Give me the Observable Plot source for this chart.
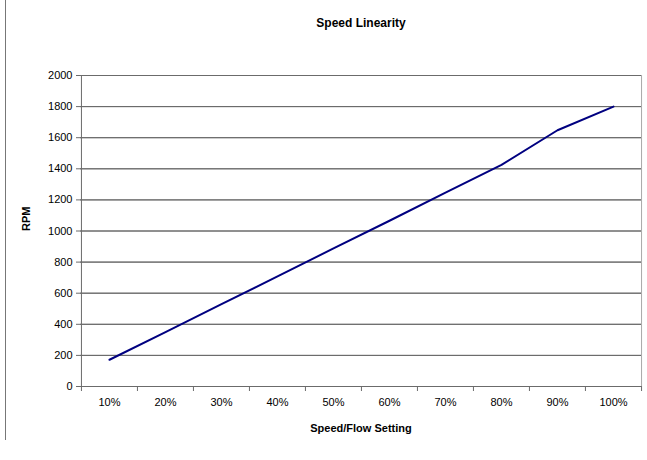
<!DOCTYPE html>
<html>
<head>
<meta charset="utf-8">
<script src="https://cdn.jsdelivr.net/npm/d3@7"></script>
<script src="https://cdn.jsdelivr.net/npm/@observablehq/plot@0.6"></script>
<style>
  html, body { margin: 0; padding: 0; background: #fff; }
  #wrap { position: relative; width: 647px; height: 460px; }
  #edge { position: absolute; left: 5px; top: 0; width: 0; height: 440px; border-left: 1px solid #777; }
  svg { font-family: "Liberation Sans", Arial, sans-serif; }
</style>
</head>
<body>
<div id="wrap"><div id="edge"></div></div>
<script>
const categories = ["10%","20%","30%","40%","50%","60%","70%","80%","90%","100%"];
const rpm = [172, 350, 530, 708, 888, 1066, 1247, 1425, 1648, 1800];
const yTicks = [0,200,400,600,800,1000,1200,1400,1600,1800,2000];
const title = "Speed Linearity";
const xLabel = "Speed/Flow Setting";
const yLabel = "RPM";

const data = categories.map((c, i) => ({setting: c, rpm: rpm[i]}));

const W = 647, H = 460, mL = 80, mR = 6, mT = 75, mB = 74;
const bw = (W - mL - mR) / categories.length;
const plotH = H - mT - mB;

const chart = Plot.plot({
  width: W, height: H,
  marginLeft: mL, marginRight: mR, marginTop: mT, marginBottom: mB,
  style: {fontFamily: '"Liberation Sans", Arial, sans-serif', fontSize: "11px", color: "#000"},
  x: {type: "band", domain: categories, padding: 0, axis: null, label: null},
  y: {domain: [0, 2000], axis: null, label: null},
  marks: [
    // gridlines
    Plot.ruleY(yTicks.filter(d => d > 0 && d < 2000), {y: d => d, stroke: "#6b6b6b", strokeWidth: 1}),
    Plot.ruleY([2000], {stroke: "#a8a8a8"}),
    Plot.ruleX([categories[categories.length - 1]], {dx: bw / 2, stroke: "#a8a8a8"}),
    // axes lines
    Plot.ruleY([0], {stroke: "#6b6b6b"}),
    Plot.ruleX([categories[0]], {dx: -bw / 2, stroke: "#6b6b6b"}),
    // y ticks
    Plot.tickY(yTicks, {y: d => d, frameAnchor: "left", stroke: "#6b6b6b", insetLeft: -4}),
    Plot.axisY(yTicks, {ticks: yTicks, tickSize: 0, tickPadding: 8, fontSize: 11, fill: "#000", label: null, tickFormat: d => String(d)}),
    // x ticks at band boundaries
    Plot.ruleX(categories, {x: d => d, dx: -bw / 2, insetTop: plotH, insetBottom: -5, stroke: "#6b6b6b"}),
    Plot.ruleX([categories[categories.length - 1]], {dx: bw / 2, insetTop: plotH, insetBottom: -5, stroke: "#6b6b6b"}),
    Plot.axisX({tickSize: 0, tickPadding: 12, fontSize: 11, fill: "#000", label: null}),
    // line
    Plot.line(data, {x: "setting", y: "rpm", stroke: "#000080", strokeWidth: 2}),
    // titles
    Plot.text([title], {frameAnchor: "top", dy: -57, fontWeight: "bold", fontSize: 12}),
    Plot.text([xLabel], {frameAnchor: "bottom", dy: 45, fontWeight: "bold", fontSize: 11}),
    Plot.text([yLabel], {frameAnchor: "left", dx: -54, rotate: -90, fontWeight: "bold", fontSize: 11})
  ]
});
chart.style.position = "absolute";
chart.style.left = "0";
chart.style.top = "0";
document.getElementById("wrap").appendChild(chart);
</script>
</body>
</html>
